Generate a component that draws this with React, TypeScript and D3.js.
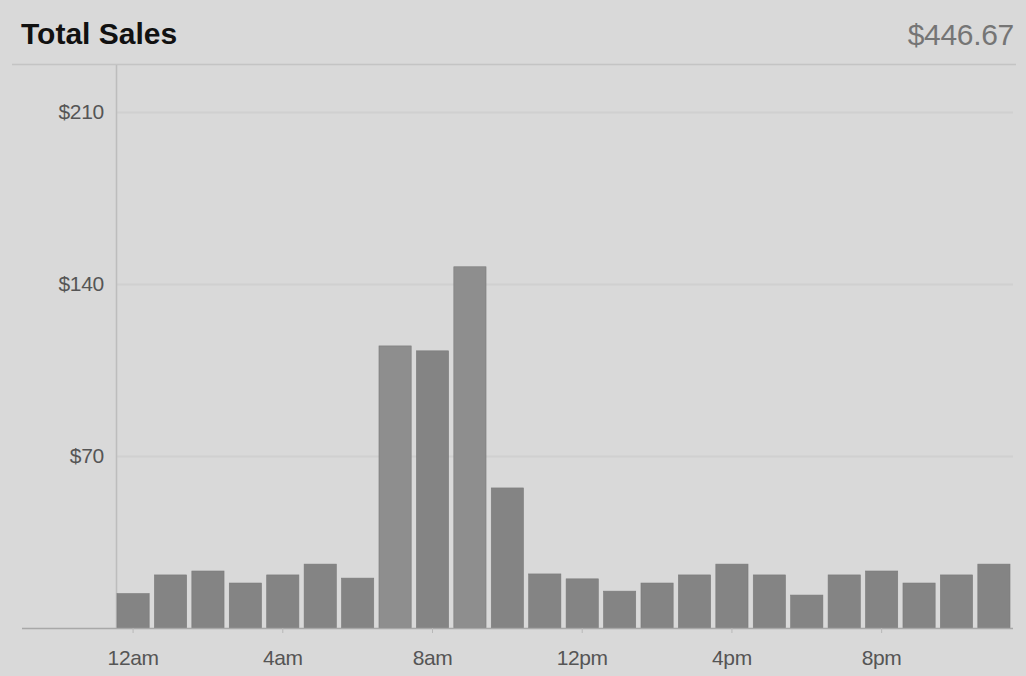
import React, { useEffect, useRef } from "react";
import * as d3 from "d3";

const hours = [
  "12am", "1am", "2am", "3am", "4am", "5am", "6am", "7am", "8am", "9am", "10am", "11am",
  "12pm", "1pm", "2pm", "3pm", "4pm", "5pm", "6pm", "7pm", "8pm", "9pm", "10pm", "11pm",
];
const sales = [
  14, 21.6, 23.2, 18.3, 21.6, 26, 20.3, 114.8, 112.8, 147, 57, 22,
  20, 15, 18.3, 21.6, 26, 21.6, 13.4, 21.6, 23.2, 18.3, 21.6, 26,
];
const yTicks = [0, 70, 140, 210];
const xTickLabels = ["12am", "4am", "8am", "12pm", "4pm", "8pm"];
const title = "Total Sales";
const total = "$446.67";

function App() {
  const ref = useRef<SVGSVGElement>(null);

  useEffect(() => {
    const width = 1026;
    const height = 676;
    const marginLeft = 116;
    const marginRight = 13;
    const marginBottom = 48;
    const font = "Liberation Sans, Arial, sans-serif";

    const svg = d3.select(ref.current);
    svg.selectAll("*").remove();

    svg.append("rect").attr("width", width).attr("height", height).attr("fill", "#d9d9d9");

    const x = d3.scaleBand()
      .domain(hours)
      .range([marginLeft - 2, width - marginRight])
      .paddingInner(0.14)
      .paddingOuter(0.08);

    const y = d3.scaleLinear()
      .domain([0, 210])
      .range([height - marginBottom, 112]);

    // header
    svg.append("text")
      .attr("x", 21)
      .attr("y", 44)
      .text(title)
      .attr("font-family", font)
      .attr("font-weight", "bold")
      .attr("font-size", "30px")
      .attr("letter-spacing", "0px")
      .attr("fill", "#111");

    svg.append("text")
      .attr("x", 1014)
      .attr("y", 45)
      .text(total)
      .attr("text-anchor", "end")
      .attr("font-family", font)
      .attr("font-size", "30px")
      .attr("letter-spacing", "-0.3px")
      .attr("fill", "#757575");

    svg.append("line")
      .attr("x1", 12).attr("x2", 1016)
      .attr("y1", 64.5).attr("y2", 64.5)
      .attr("stroke", "#c4c4c4")
      .attr("stroke-width", 1.5);

    // gridlines
    svg.append("g")
      .selectAll("line")
      .data(yTicks.filter((d) => d > 0))
      .join("line")
      .attr("x1", marginLeft)
      .attr("x2", width - marginRight)
      .attr("y1", (d) => y(d) + 0.5)
      .attr("y2", (d) => y(d) + 0.5)
      .attr("stroke", "#d0d0d0")
      .attr("stroke-width", 2);

    // y labels
    svg.append("g")
      .selectAll("text")
      .data(yTicks.filter((d) => d > 0))
      .join("text")
      .attr("x", 104)
      .attr("y", (d) => y(d) + 7)
      .attr("text-anchor", "end")
      .attr("font-family", font)
      .attr("font-size", "21px")
      .attr("letter-spacing", "-0.3px")
      .attr("fill", "#555")
      .text((d) => `$${d}`);

    // y axis line
    svg.append("line")
      .attr("x1", marginLeft + 0.5).attr("x2", marginLeft + 0.5)
      .attr("y1", 65).attr("y2", y(0))
      .attr("stroke", "#bdbdbd")
      .attr("stroke-width", 1.5);

    // bars
    svg.append("g")
      .selectAll("rect")
      .data(sales)
      .join("rect")
      .attr("x", (d, i) => x(hours[i]) as number)
      .attr("y", (d) => y(d))
      .attr("width", x.bandwidth())
      .attr("height", (d) => y(0) - y(d))
      .attr("fill", (d, i) => (i === 7 || i === 9 ? "#8e8e8e" : "#848484"))
      .attr("stroke", "#7a7a7a")
      .attr("stroke-width", 0.6);

    // baseline
    svg.append("line")
      .attr("x1", 22).attr("x2", width - marginRight)
      .attr("y1", y(0) + 0.5).attr("y2", y(0) + 0.5)
      .attr("stroke", "#a8a8a8")
      .attr("stroke-width", 1.5);

    // x ticks and labels
    const xg = svg.append("g");
    xg.selectAll("line")
      .data(xTickLabels)
      .join("line")
      .attr("x1", (d) => (x(d) as number) + x.bandwidth() / 2)
      .attr("x2", (d) => (x(d) as number) + x.bandwidth() / 2)
      .attr("y1", y(0))
      .attr("y2", y(0) + 5)
      .attr("stroke", "#b8b8b8");
    xg.selectAll("text")
      .data(xTickLabels)
      .join("text")
      .attr("x", (d) => (x(d) as number) + x.bandwidth() / 2)
      .attr("y", y(0) + 37)
      .attr("text-anchor", "middle")
      .attr("font-family", font)
      .attr("font-size", "21px")
      .attr("letter-spacing", "-0.4px")
      .attr("fill", "#555")
      .text((d) => d);
  }, []);

  return (
    <svg
      ref={ref}
      width={1026}
      height={676}
      style={{ position: "absolute", left: 0, top: 0, display: "block" }}
    />
  );
}

export default App;
